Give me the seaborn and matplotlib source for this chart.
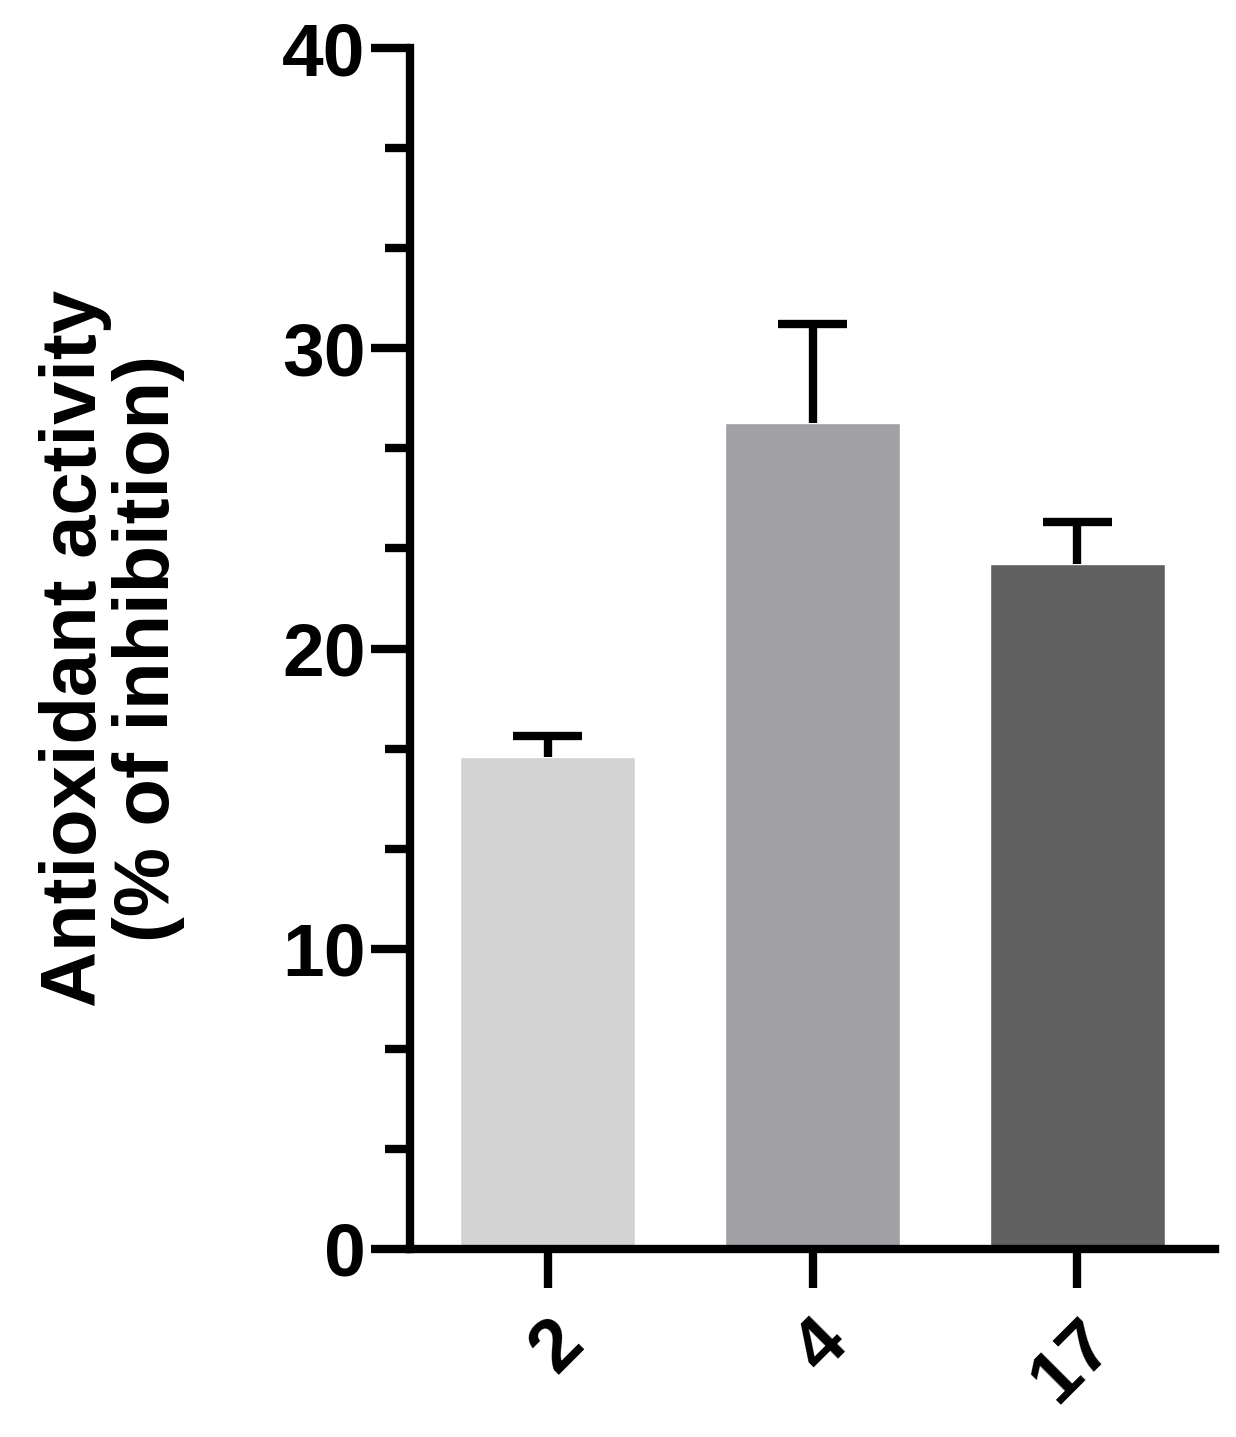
import matplotlib
matplotlib.use("Agg")
import matplotlib.pyplot as plt
import seaborn as sns
import numpy as np
import pandas as pd
from matplotlib.ticker import MultipleLocator

# values
compounds = ["2", "4", "17"]
means = [16.4, 27.5, 22.8]
errors = [0.7, 3.3, 1.4]
colors = ["#d3d3d3", "#a0a0a5", "#606060"]

sns.set_style("ticks", {"axes.edgecolor": "black", "xtick.color": "black",
                        "ytick.color": "black", "text.color": "black",
                        "axes.labelcolor": "black"})
plt.rcParams["font.family"] = ["Liberation Sans", "DejaVu Sans"]
plt.rcParams["font.weight"] = "bold"

df = pd.DataFrame({"compound": compounds, "activity": means})

fig = plt.figure(figsize=(12.36, 14.37), dpi=100)
ax = fig.add_axes([410 / 1236, 1 - 1249 / 1437, 805 / 1236, 1201 / 1437])

sns.barplot(data=df, x="compound", y="activity", hue="compound", palette=colors,
            width=0.66, legend=False, ax=ax, saturation=1)
# upper-only error bars with a cap at the top
x = np.arange(len(compounds))
tops = np.array(means) + np.array(errors)
ax.vlines(x, means, tops, color="black", linewidth=6)
ax.hlines(tops, x - 0.13, x + 0.13, color="black", linewidth=6)

ax.set_xlim(-0.52, 2.52)
ax.set_ylim(0, 40)
ax.yaxis.set_major_locator(MultipleLocator(10))
ax.yaxis.set_minor_locator(MultipleLocator(3.3333333))
sns.despine(ax=ax)
for s in ["left", "bottom"]:
    ax.spines[s].set_linewidth(6)
ax.tick_params(axis="both", which="major", width=6, length=28, labelsize=54, pad=4)
ax.tick_params(axis="y", which="minor", width=6, length=18)
ax.tick_params(axis="x", pad=14)
plt.setp(ax.get_xticklabels(), rotation=45, ha="right", rotation_mode="anchor")
ax.set_xlabel("")
ax.set_ylabel("Antioxidant activity\n(% of inhibition)", fontsize=56,
              fontweight="bold", labelpad=70, linespacing=1.0)

fig.savefig("out.png", dpi=100)
